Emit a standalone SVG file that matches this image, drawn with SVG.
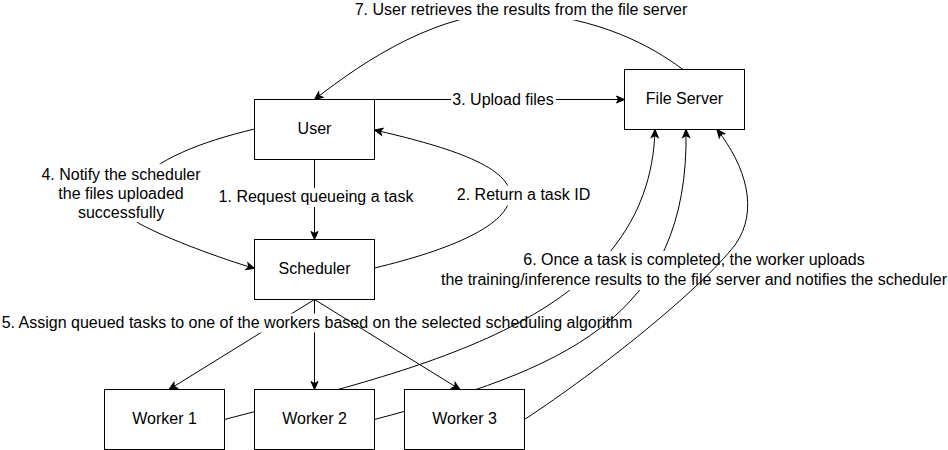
<svg xmlns="http://www.w3.org/2000/svg" width="948" height="450" viewBox="0 0 948 450">
<defs>
<style>
text{font-family:"Liberation Sans",Helvetica,Arial,sans-serif;font-size:16px;fill:#000;text-anchor:middle}
.e{fill:none;stroke:#000;stroke-width:1}
.a{marker-end:url(#arr)}
.bg{fill:#fff;stroke:none}
.box{fill:#fff;stroke:#000;stroke-width:1}
</style>
<marker id="arr" markerUnits="userSpaceOnUse" markerWidth="12" markerHeight="12" viewBox="-10 -6 12 12" refX="0" refY="0" orient="auto" overflow="visible">
<path d="M0,0 L-8,-3.5 L-6,0 L-8,3.5 Z" fill="#000" stroke="#000" stroke-width="1" stroke-linejoin="miter"/>
</marker>
</defs>
<rect width="948" height="450" fill="#fff"/>
<g id="connectors">
<!-- 7 -->
<path class="e a" d="M683,69.5 C650,45 600,18 520,12 C440,10 365,60 314.5,99.5"/>
<rect class="bg" x="354" y="1" width="335" height="19"/>
<text x="521" y="15">7. User retrieves the results from the file server</text>
<!-- 3 -->
<path class="e a" d="M374.5,99.5 L624.5,99.5"/>
<rect class="bg" x="451" y="91" width="105" height="19"/>
<text x="503" y="105">3. Upload files</text>
<!-- 1 -->
<path class="e a" d="M314.5,159.5 L314.5,239.5"/>
<rect class="bg" x="218" y="188" width="197" height="19"/>
<text x="316" y="202">1. Request queueing a task</text>
<!-- 2 -->
<path class="e a" d="M374.5,268 C450,250 510,225 510,195 C510,165 440,145 374.5,130"/>
<rect class="bg" x="455" y="185.5" width="137" height="20"/>
<text x="523.5" y="200">2. Return a task ID</text>
<!-- 4 -->
<path class="e a" d="M254.5,129 C200,142 155,160 135,185 C120,205 125,215 140,224 C170,240 220,258 254.5,268.5"/>
<rect class="bg" x="39" y="164" width="164" height="58"/>
<text x="121" y="179.5">4. Notify the scheduler</text>
<text x="121" y="198.5">the files uploaded</text>
<text x="121" y="217.5">successfully</text>
<!-- 5 -->
<path class="e a" d="M314.5,299.5 L169,389.5"/>
<path class="e a" d="M314.5,299.5 L314.5,389.5"/>
<rect class="bg" x="0" y="313.5" width="636" height="19"/>
<text x="317" y="327.5">5. Assign queued tasks to one of the workers based on the selected scheduling algorithm</text>
<path class="e a" d="M314.5,299.5 L460,389.5"/>
<!-- 6 -->
<path class="e a" d="M224.5,419.5 C420,368 650,320 655,129.5"/>
<path class="e a" d="M374.5,419.5 C560,370 690,320 686,129.5"/>
<rect class="bg" x="440" y="251" width="508" height="39"/>
<text x="694" y="265">6. Once a task is completed, the worker uploads</text>
<text x="694" y="285">the training/inference results to the file server and notifies the scheduler</text>
<path class="e a" d="M524.5,419.5 C600,370 700,290 735,245 C760,210 745,165 717,129.5"/>
</g>
<g id="user"><rect class="box" x="254.5" y="99.5" width="120" height="60"/><text x="314.5" y="133.5">User</text></g>
<g id="file-server"><rect class="box" x="624.5" y="69.5" width="120" height="60"/><text x="684.5" y="104">File Server</text></g>
<g id="scheduler"><rect class="box" x="254.5" y="239.5" width="120" height="60"/><text x="314.5" y="273.5">Scheduler</text></g>
<g id="worker-1"><rect class="box" x="104.5" y="389.5" width="120" height="60"/><text x="164.5" y="423.5">Worker 1</text></g>
<g id="worker-2"><rect class="box" x="254.5" y="389.5" width="120" height="60"/><text x="314.5" y="423.5">Worker 2</text></g>
<g id="worker-3"><rect class="box" x="404.5" y="389.5" width="120" height="60"/><text x="464.5" y="423.5">Worker 3</text></g>
</svg>
